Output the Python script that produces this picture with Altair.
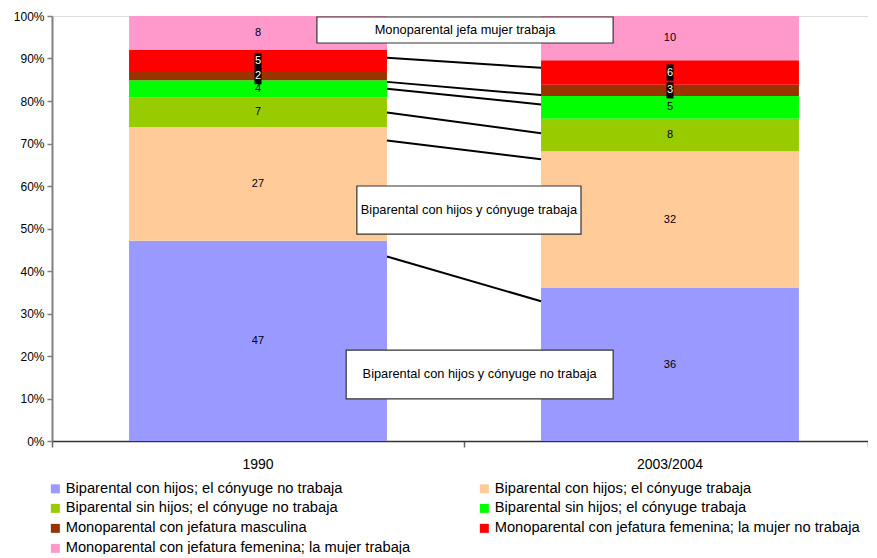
import altair as alt
import pandas as pd

# ---------------- data ----------------
years = ["1990", "2003/2004"]
year_centers = [0.5, 1.5]
categories = [
    "Biparental con hijos; el cónyuge no trabaja",
    "Biparental con hijos; el cónyuge trabaja",
    "Biparental sin hijos; el cónyuge no trabaja",
    "Biparental sin hijos; el cónyuge trabaja",
    "Monoparental con jefatura masculina",
    "Monoparental con jefatura femenina; la mujer no trabaja",
    "Monoparental con jefatura femenina; la mujer trabaja",
]
colors = ["#9999FF", "#FFCC99", "#99CC00", "#00FF00", "#993300", "#FF0000", "#FF99CC"]
share_1990 = [47.1, 26.8, 7.0, 4.0, 1.9, 5.2, 8.0]
share_2003 = [36.0, 32.2, 7.6, 5.4, 2.6, 5.8, 10.4]

# connector lines (left bar edge -> right bar edge), in %
line_from = [90.2, 84.5, 82.9, 77.3, 70.7, 43.4]
line_to = [87.8, 81.4, 79.2, 72.4, 66.3, 32.9]

# callout boxes
box_text = [
    "Monoparental jefa mujer trabaja",
    "Biparental con hijos y cónyuge trabaja",
    "Biparental con hijos y cónyuge no trabaja",
]
box_x0 = [0.643, 0.740, 0.714]
box_x1 = [1.362, 1.284, 1.362]
box_y0 = [93.65, 48.7, 9.9]
box_y1 = [99.76, 60.0, 21.4]

BAR_HALF = 0.313
X_MAX = 1.9806

rows = []
for yr, xc, vals in zip(years, year_centers, [share_1990, share_2003]):
    for i, (cat, v) in enumerate(zip(categories, vals)):
        rows.append(dict(year=yr, xc=xc, cat=cat, idx=i, value=v))
df = pd.DataFrame(rows)

lines_df = pd.DataFrame({
    "xa": [year_centers[0] + BAR_HALF] * len(line_from),
    "xb": [year_centers[1] - BAR_HALF] * len(line_from),
    "ya": line_from,
    "yb": line_to,
})
boxes_df = pd.DataFrame({"t": box_text, "x0": box_x0, "x1": box_x1, "y0": box_y0, "y1": box_y1})
years_df = pd.DataFrame({"year": years, "xc": year_centers})

# ---------------- scales / axes ----------------
xs = alt.Scale(domain=[0, X_MAX], nice=False, zero=False)
ys = alt.Scale(domain=[0, 100], nice=False)
x_axis = alt.Axis(values=[0, 1, 1.98], labels=False, title=None, grid=False,
                  domainColor="#333333", domainWidth=1.5, tickColor="#666666",
                  tickSize=6, tickWidth=1.5)
y_axis = alt.Axis(values=list(range(0, 101, 10)), labelExpr="datum.value + '%'",
                  title=None, grid=False, domainColor="#808080", domainWidth=2,
                  tickColor="#808080", tickSize=5, tickWidth=1.5,
                  labelFontSize=12, labelColor="#000000", labelPadding=3)


def X(f):
    return alt.X(f, scale=xs, axis=x_axis)


def Y(f):
    return alt.Y(f, scale=ys, axis=y_axis)


stacked = (
    alt.Chart(df)
    .transform_stack(stack="value", groupby=["year"],
                     sort=[alt.SortField("idx", order="ascending")], as_=["y0", "y1"])
    .transform_calculate(
        x0=f"datum.xc - {BAR_HALF}",
        x1=f"datum.xc + {BAR_HALF}",
        ymid="(datum.y0 + datum.y1) / 2",
        label="format(datum.value, '.0f')",
    )
)

bars = stacked.mark_rect().encode(
    x=X("x0:Q"), x2="x1:Q", y=Y("y0:Q"), y2="y1:Q",
    color=alt.Color(
        "cat:N",
        scale=alt.Scale(domain=categories, range=colors),
        legend=alt.Legend(
            title=None, orient="none", legendX=-4, legendY=465, columns=2,
            direction="horizontal",
            columnPadding=66, rowPadding=4, symbolType="square", symbolSize=81,
            symbolStrokeWidth=0, labelFontSize=14.7, labelLimit=600, labelOffset=3,
            labelColor="#000000",
        ),
    ),
)

black_boxes = (
    stacked.transform_filter("datum.idx == 4 || datum.idx == 5")
    .transform_calculate(bx0="datum.xc - 0.0085", bx1="datum.xc + 0.0085",
                         by0="(datum.y0 + datum.y1) / 2 - 1.9",
                         by1="(datum.y0 + datum.y1) / 2 + 1.9")
    .mark_rect(color="#000000")
    .encode(x=X("bx0:Q"), x2="bx1:Q", y=Y("by0:Q"), y2="by1:Q")
)

labels = stacked.mark_text(fontSize=11, baseline="middle").encode(
    x=X("xc:Q"), y=Y("ymid:Q"), text="label:N",
    color=alt.condition("datum.idx == 4 || datum.idx == 5",
                        alt.value("#ffffff"), alt.value("#000000")),
)

connectors = alt.Chart(lines_df).mark_rule(color="#000000", strokeWidth=2).encode(
    x=X("xa:Q"), x2="xb:Q", y=Y("ya:Q"), y2="yb:Q"
)

box_rects = alt.Chart(boxes_df).mark_rect(fill="#ffffff", stroke="#333333", strokeWidth=1.2).encode(
    x=X("x0:Q"), x2="x1:Q", y=Y("y0:Q"), y2="y1:Q"
)
box_labels = (
    alt.Chart(boxes_df)
    .transform_calculate(cx="(datum.x0 + datum.x1) / 2", cy="(datum.y0 + datum.y1) / 2")
    .mark_text(fontSize=12.8, baseline="middle", color="#000000")
    .encode(x=X("cx:Q"), y=Y("cy:Q"), text="t:N")
)

year_labels = alt.Chart(years_df).mark_text(fontSize=14, baseline="middle", color="#000000").encode(
    x=X("xc:Q"), y=alt.value(449), text="year:N"
)

chart = (
    alt.layer(bars, connectors, black_boxes, labels, box_rects, box_labels, year_labels)
    .properties(width=816, height=425, autosize="none",
                padding={"left": 44, "top": 8, "right": 0, "bottom": 113})
    .configure_view(stroke=None)
    .configure(font="Liberation Sans")
)

chart.save("out.html", embed_options={"renderer": "svg", "actions": False})
